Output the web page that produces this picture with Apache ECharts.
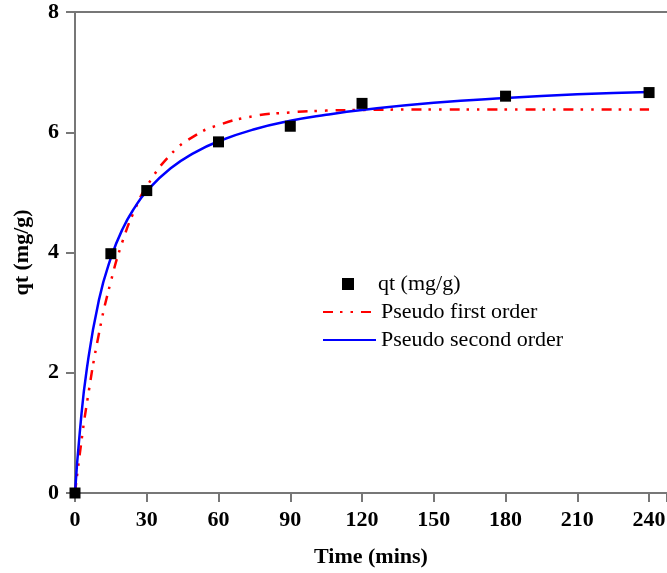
<!DOCTYPE html>
<html>
<head>
<meta charset="utf-8">
<script src="https://cdn.jsdelivr.net/npm/echarts@6/dist/echarts.min.js"></script>
<style>
  html, body { margin: 0; padding: 0; background: #fff; }
  #chart { width: 667px; height: 573px; }
</style>
</head>
<body>
<div id="chart"></div>
<script>
// measured adsorption points
const timeObs = [0, 15, 30, 60, 90, 120, 180, 240];
const qtObs = [0, 3.98, 5.03, 5.84, 6.1, 6.48, 6.6, 6.66];

// fitted curves, values
const timeFit = [0, 2, 5, 10, 15, 20, 25, 30, 40, 50, 60, 75, 90, 105, 120, 150, 180, 210, 240];
const firstOrder = [0, 0.65, 1.5, 2.65, 3.52, 4.2, 4.71, 5.1, 5.63, 5.94, 6.12, 6.27, 6.33, 6.36, 6.37, 6.38, 6.38, 6.38, 6.38];
const secondOrder = [0, 1.01, 2.08, 3.21, 3.91, 4.4, 4.75, 5.02, 5.4, 5.66, 5.85, 6.05, 6.19, 6.29, 6.37, 6.49, 6.57, 6.63, 6.67];

const xTicks = [0, 30, 60, 90, 120, 150, 180, 210, 240];
const yTicks = [0, 2, 4, 6, 8];

const serif = 'Liberation Serif';

function pairs(xs, ys) {
  return xs.map(function (x, i) { return [x, ys[i]]; });
}

const chart = echarts.init(document.getElementById('chart'));

const axisLine = { show: true, lineStyle: { color: '#777', width: 2 } };

const option = {
  animation: false,
  backgroundColor: '#fff',
  grid: { left: 75, right: 0, top: 12, bottom: 80, outerBoundsMode: 'none' },
  legend: [
    {
      data: ['qt (mg/g)'],
      left: 342,
      top: 273,
      padding: 0,
      itemWidth: 12,
      itemHeight: 12,
      icon: 'rect',
      itemStyle: { opacity: 1 },
      textStyle: { fontFamily: serif, fontSize: 22, color: '#000', lineHeight: 20, padding: [0, 0, 0, 19] }
    },
    {
      data: ['Pseudo first order', 'Pseudo second order'],
      orient: 'vertical',
      left: 322,
      top: 301,
      padding: 0,
      itemWidth: 53,
      itemHeight: 12,
      itemGap: 6,
      itemStyle: { opacity: 0 },
      textStyle: { fontFamily: serif, fontSize: 22, color: '#000', lineHeight: 20 }
    }
  ],
  xAxis: [
    {
      type: 'value',
      min: 0,
      max: 247.5,
      interval: 30,
      name: 'Time (mins)',
      nameLocation: 'middle',
      nameGap: 53,
      nameTextStyle: { fontFamily: serif, fontSize: 22, fontWeight: 'bold', color: '#000' },
      axisLine: axisLine,
      axisTick: { show: true, length: 9, lineStyle: { color: '#777', width: 2 } },
      axisLabel: {
        margin: 16,
        fontFamily: serif, fontSize: 22, fontWeight: 'bold', color: '#000',
        formatter: function (v) { return xTicks.indexOf(v) >= 0 ? String(v) : ''; }
      },
      splitLine: { show: false }
    },
    {
      type: 'value',
      position: 'top',
      min: 0,
      max: 247.5,
      axisLine: axisLine,
      axisTick: { show: false },
      axisLabel: { show: false },
      splitLine: { show: false }
    }
  ],
  yAxis: {
    type: 'value',
    min: 0,
    max: 8,
    interval: 2,
    name: 'qt (mg/g)',
    nameLocation: 'middle',
    nameGap: 42,
    nameTextStyle: { fontFamily: serif, fontSize: 22, fontWeight: 'bold', color: '#000' },
    axisLine: axisLine,
    axisTick: { show: true, length: 9, lineStyle: { color: '#777', width: 2 } },
    axisLabel: {
      margin: 16,
      fontFamily: serif, fontSize: 22, fontWeight: 'bold', color: '#000',
      formatter: function (v) { return yTicks.indexOf(v) >= 0 ? String(v) : ''; }
    },
    splitLine: { show: false }
  },
  series: [
    {
      name: 'qt (mg/g)',
      type: 'scatter',
      symbol: 'rect',
      symbolSize: 11,
      itemStyle: { color: '#000', opacity: 1 },
      z: 5,
      data: pairs(timeObs, qtObs)
    },
    {
      name: 'Pseudo first order',
      type: 'line',
      smooth: true,
      showSymbol: false,
      symbol: 'none',
      itemStyle: { color: '#ff0000' },
      lineStyle: { color: '#ff0000', width: 2.5, type: [10, 7, 2.5, 8, 2.5, 8] },
      data: pairs(timeFit, firstOrder)
    },
    {
      name: 'Pseudo second order',
      type: 'line',
      smooth: true,
      showSymbol: false,
      symbol: 'none',
      itemStyle: { color: '#0000ff' },
      lineStyle: { color: '#0000ff', width: 2.5 },
      data: pairs(timeFit, secondOrder)
    }
  ]
};

chart.setOption(option);
window.addEventListener('resize', function () { chart.resize(); });
</script>
</body>
</html>
